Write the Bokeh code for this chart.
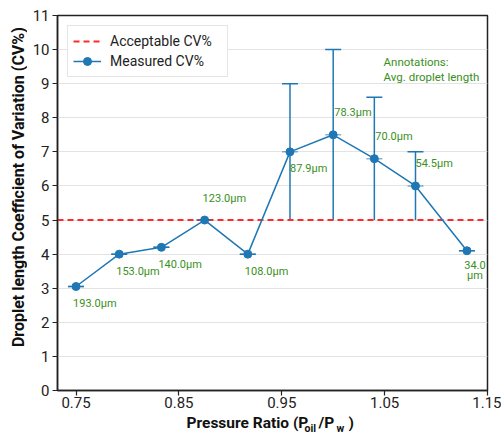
import numpy as np
from bokeh.plotting import figure
from bokeh.layouts import row, column
from bokeh.models import (Range1d, FixedTicker, Whisker, ColumnDataSource, Label,
                          Legend, LegendItem, TeeHead)
from bokeh.core.properties import value
from bokeh.embed import file_html
from bokeh.resources import INLINE

# ---- data ----
pressure_ratio = [0.75, 0.792, 0.833, 0.875, 0.917, 0.958, 1.0, 1.04, 1.08, 1.13]
cv_measured = [3.05, 4.0, 4.2, 5.0, 4.0, 7.0, 7.5, 6.8, 6.0, 4.1]
cv_upper = [3.05, 4.0, 4.2, 5.0, 4.0, 9.0, 10.0, 8.6, 7.0, 4.1]
cv_lower = [3.05, 4.0, 4.2, 5.0, 4.0, 5.0, 5.0, 5.0, 5.0, 4.1]
droplet_labels = ["193.0μm", "153.0μm", "140.0μm", "123.0μm", "108.0μm",
                  "87.9μm", "78.3μm", "70.0μm", "54.5μm", "34.0\nμm"]
acceptable_cv = 5.0
x_ticks = [0.75, 0.85, 0.95, 1.05, 1.15]
y_ticks = list(range(0, 12))
y_title = "Droplet length Coefficient of Variation (CV%)"
x_title_parts = ["Pressure Ratio (P", "oil", "/P", "w", ")"]

# ---- styles ----
label_dy = [17, 17, 17, -22, 17, 17, -22, -22, -22, 20]
label_dx = [-3, -3, -3, -2, -3, 0, 1, 1, 0, 8]
label_align = ["left"] * 9 + ["center"]

BLUE = "#1f77b4"
GREEN = "#3a8f22"
FONT = "Roboto"
DARK = "#222222"


def blank(fig):
    fig.axis.visible = False
    fig.grid.visible = False
    fig.outline_line_color = None
    fig.background_fill_color = "white"
    fig.border_fill_color = "white"
    return fig


LEFT_W = 27
TOP_H = 415

x0, x1 = 0.732, 1.15
p = figure(width=501 - LEFT_W, height=TOP_H, output_backend="svg", toolbar_location=None,
           x_range=Range1d(x0, x1), y_range=Range1d(0, 11),
           min_border_left=57 - LEFT_W, min_border_right=14, min_border_top=15,
           min_border_bottom=25)
p.background_fill_color = "white"
p.border_fill_color = "white"
p.outline_line_color = DARK
p.outline_line_width = 1.5

p.xaxis.ticker = FixedTicker(ticks=x_ticks)
p.yaxis.ticker = FixedTicker(ticks=y_ticks)
for ax in (p.xaxis, p.yaxis):
    ax.axis_line_color = DARK
    ax.axis_line_width = 1.5
    ax.major_tick_line_color = DARK
    ax.major_tick_line_width = 1.2
    ax.major_tick_in = 0
    ax.major_tick_out = 5
    ax.minor_tick_line_color = None
    ax.major_label_text_font = FONT
    ax.major_label_text_font_size = "15px"
    ax.major_label_text_color = DARK
p.xaxis.major_label_standoff = 1
p.yaxis.major_label_standoff = 3
p.xgrid.grid_line_color = None
p.ygrid.grid_line_color = "#e3e3e3"
p.ygrid.grid_line_width = 1

# threshold line
thr = p.line(x=[x0, x1], y=[acceptable_cv, acceptable_cv], line_color="#ff2a2a",
             line_width=2, line_dash="6 4")

src = ColumnDataSource(dict(x=pressure_ratio, y=cv_measured, up=cv_upper, lo=cv_lower,
                            lab=droplet_labels, dx=label_dx, dy=label_dy, al=label_align))

w = Whisker(base="x", upper="up", lower="lo", source=src, line_color=BLUE, line_width=1.5,
            upper_head=TeeHead(size=16, line_color=BLUE, line_width=1.5), lower_head=None)
p.add_layout(w)

caps = p.scatter("x", "y", source=src, marker="dash", size=16, line_color=BLUE,
                 line_alpha=0.55, line_width=1.5)
ln = p.line("x", "y", source=src, line_color=BLUE, line_width=1.5)
pts = p.scatter("x", "y", source=src, marker="circle", size=8, fill_color=BLUE,
                line_color=BLUE)

p.text("x", "y", text="lab", source=src, x_offset="dx", y_offset="dy",
       text_align="al", text_baseline="middle", text_font=value(FONT),
       text_font_size="11px", text_color=GREEN, text_line_height=0.8)

# legend-only glyph: vertical error bar (NaN point, never drawn in the plot)
leg_bar = p.scatter(x=[np.nan], y=[np.nan], marker="dash", angle=np.pi / 2, size=18,
                    line_color=BLUE, line_alpha=0.6, line_width=1.5)

legend = Legend(items=[LegendItem(label="Acceptable CV%", renderers=[thr]),
                       LegendItem(label="Measured CV%", renderers=[leg_bar, ln, pts])],
                location="top_left")
legend.label_text_font = FONT
legend.label_text_font_size = "14px"
legend.label_text_color = DARK
legend.border_line_color = "#cccccc"
legend.border_line_width = 1.5
legend.background_fill_color = "white"
legend.background_fill_alpha = 1.0
legend.padding = 5
legend.spacing = 0
legend.margin = 10
legend.glyph_width = 28
legend.glyph_height = 20
legend.label_standoff = 9
legend.label_width = 112
p.add_layout(legend)

# annotations header
for txt, yy in (("Annotations:", 9.65), ("Avg. droplet length", 9.21)):
    p.add_layout(Label(x=1.049, y=yy, text=txt, text_font=FONT, text_font_size="11.5px",
                       text_color=GREEN, text_baseline="middle", text_align="left"))

# ---- y axis title (left strip) ----
pl = blank(figure(width=LEFT_W, height=TOP_H, output_backend="svg", toolbar_location=None,
                  x_range=Range1d(0, LEFT_W), y_range=Range1d(0, TOP_H),
                  min_border=0))
pl.text(x=[18], y=[TOP_H - 190], text=[y_title], angle=np.pi / 2,
        text_font=value(FONT), text_font_size="16px", text_font_style="bold",
        text_color="#111111", text_align="center", text_baseline="middle")

# ---- x axis title (bottom strip) with subscripts ----
BOT_H = 439 - TOP_H
pb = blank(figure(width=501, height=BOT_H, output_backend="svg", toolbar_location=None,
                  x_range=Range1d(0, 501), y_range=Range1d(0, BOT_H), min_border=0))
part_x = [186, 304, 318, 336, 348]
part_y = [16.3, 11.5, 16.3, 11.5, 16.3]
part_fs = ["15.5px", "10.5px", "15.5px", "10.5px", "15.5px"]
for t, xp, yp, fs in zip(x_title_parts, part_x, part_y, part_fs):
    pb.text(x=[xp], y=[yp], text=[t], text_font=value(FONT), text_font_size=fs,
            text_font_style="bold", text_color="#111111", text_align="left",
            text_baseline="alphabetic")

layout = column(row(pl, p, spacing=0), pb, spacing=0)
open("out.html", "w").write(file_html(layout, INLINE))
